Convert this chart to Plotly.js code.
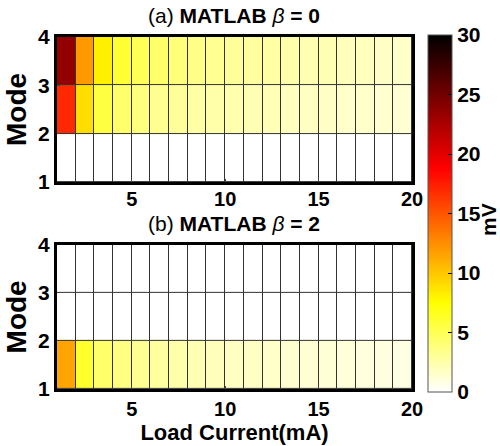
<!DOCTYPE html>
<html>
<head>
<meta charset="utf-8">
<script src="https://cdn.plot.ly/plotly-3.0.1.min.js"></script>
<style>html,body{margin:0;padding:0;background:#fff}#chart{width:500px;height:446px}</style>
</head>
<body>
<div id="chart"></div>
<script>
// Cell edges along Load Current (mA): 19 columns between 1 and 20
var loadCurrentEdges = [1,2,3,4,5,6,7,8,9,10,11,12,13,14,15,16,17,18,19,20];
// Cell edges along Mode: 3 rows between 1 and 4
var modeEdges = [1,2,3,4];

// (a) MATLAB beta = 0 (mV)
var a_mode1 = [0,0,0,0,0,0,0,0,0,0,0,0,0,0,0,0,0,0,0];
var a_mode2 = [17,9,5.6,4.4,3.8,3.3,3.0,2.7,2.5,2.4,2.2,2.1,1.9,1.8,1.7,1.6,1.5,1.4,1.3];
var a_mode3 = [23.5,12,8.2,6.0,5.0,4.4,3.9,3.5,3.2,3.0,2.8,2.7,2.5,2.3,2.2,2.0,1.9,1.7,1.6];

// (b) MATLAB beta = 2 (mV)
var b_mode1 = [11.5,6.2,4.4,3.7,3.2,2.8,2.5,2.2,2.0,1.8,1.7,1.6,1.4,1.3,1.2,1.1,1.0,0.9,0.8];
var b_mode2 = [0,0,0,0,0,0,0,0,0,0,0,0,0,0,0,0,0,0,0];
var b_mode3 = [0,0,0,0,0,0,0,0,0,0,0,0,0,0,0,0,0,0,0];

var xTicks = [5,10,15,20];
var yTicks = [1,2,3,4];
var cbTicks = [0,5,10,15,20,25,30];

var FONT = 'Liberation Sans, Arial, sans-serif';

// flipped MATLAB "hot"
var hotFlip = [[0,'rgb(255,255,255)'],[0.25,'rgb(255,255,0)'],[0.625,'rgb(255,0,0)'],[1,'rgb(0,0,0)']];

var traceA = {
  type:'heatmap', x: loadCurrentEdges, y: modeEdges,
  z: [a_mode1, a_mode2, a_mode3],
  coloraxis:'coloraxis', xgap:1, ygap:1, xaxis:'x', yaxis:'y'
};
var traceB = {
  type:'heatmap', x: loadCurrentEdges, y: modeEdges,
  z: [b_mode1, b_mode2, b_mode3],
  coloraxis:'coloraxis', xgap:1, ygap:1, xaxis:'x2', yaxis:'y2'
};

function xax(anchor){
  return {domain:[0.114,0.824], range:[1,20], anchor:anchor, tickvals:xTicks, ticks:'inside', ticklen:3,
    showline:true, linewidth:3, linecolor:'#000', mirror:true, showgrid:false, zeroline:false,
    tickfont:{family:FONT, size:20, color:'#000', weight:'bold'}};
}
function yax(anchor, dom){
  return {domain:dom, range:[1,4], anchor:anchor, tickvals:yTicks, ticks:'inside', ticklen:3,
    showline:true, linewidth:3, linecolor:'#000', mirror:true, showgrid:false, zeroline:false,
    tickfont:{family:FONT, size:21, color:'#000', weight:'bold'},
    title:{text:'<b>Mode</b>', font:{family:FONT, size:28, color:'#000'}, standoff:4}};
}

var xa1 = xax('y');
xa1.ticklabelstandoff = -3;
var xa2 = xax('y2');
xa2.title = {text:'<b>Load Current(mA)</b>', font:{family:FONT, size:22, color:'#000'}, standoff:2};

var layout = {
  width:500, height:446,
  margin:{l:0,r:0,t:0,b:0},
  paper_bgcolor:'#fff', plot_bgcolor:'#333',
  showlegend:false,
  xaxis: xa1,
  yaxis: yax('x',[0.592,0.917]),
  xaxis2: xa2,
  yaxis2: yax('x2',[0.128,0.451]),
  coloraxis:{cmin:0, cmax:30, colorscale:hotFlip,
    colorbar:{x:0.856, xanchor:'left', y:0.521, yanchor:'middle', len:357, lenmode:'pixels',
      thickness:24, thicknessmode:'pixels', outlinewidth:1, outlinecolor:'#555', xpad:0, ypad:0,
      tickvals:cbTicks, ticks:'inside', ticklen:4, tickcolor:'#000',
      tickfont:{family:FONT, size:21, color:'#000', weight:'bold'}}},
  annotations:[
    {text:'(a) <b>MATLAB</b> <i>β</i><b> = 0</b>', xref:'paper', yref:'paper', x:0.468, y:0.965, xanchor:'center', yanchor:'middle', showarrow:false, font:{family:FONT, size:21, color:'#000'}},
    {text:'(b) <b>MATLAB</b> <i>β</i><b> = 2</b>', xref:'paper', yref:'paper', x:0.468, y:0.499, xanchor:'center', yanchor:'middle', showarrow:false, font:{family:FONT, size:21, color:'#000'}},
    {text:'<b>mV</b>', xref:'paper', yref:'paper', x:0.978, y:0.507, xanchor:'center', yanchor:'middle', textangle:-90, showarrow:false, font:{family:FONT, size:21, color:'#000'}}
  ]
};

Plotly.newPlot('chart',[traceA, traceB], layout, {displayModeBar:false, staticPlot:true});
</script>
</body>
</html>
